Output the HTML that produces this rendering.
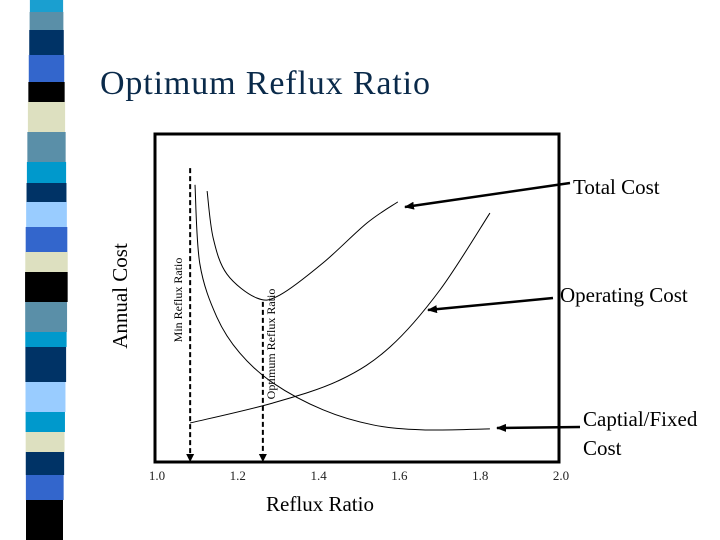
<!DOCTYPE html>
<html><head><meta charset="utf-8"><style>
html,body{margin:0;padding:0;background:#fff;}
svg{display:block;font-family:"Liberation Serif",serif;}
</style></head><body>
<svg width="720" height="540" viewBox="0 0 720 540">
<g id="strip"></g>
<text x="100" y="94" font-size="34" fill="#0a2a4a" textLength="330">Optimum Reflux Ratio</text>
<rect x="155" y="134" width="404" height="328" fill="none" stroke="#000" stroke-width="3"/>
<g id="ticks"></g>
<text x="320" y="511" font-size="21" text-anchor="middle">Reflux Ratio</text>
<text transform="translate(127,296) rotate(-90)" font-size="21" text-anchor="middle">Annual Cost</text>
<g id="curves"></g>
<g id="marks"></g>
<text transform="translate(182,300) rotate(-90)" font-size="12" text-anchor="middle">Min Reflux Ratio</text>
<text transform="translate(275,344) rotate(-90)" font-size="12" text-anchor="middle">Optimum Reflux Ratio</text>
<text x="573" y="194" font-size="21">Total Cost</text>
<text x="560" y="302" font-size="21">Operating Cost</text>
<text x="583" y="426" font-size="21">Captial/Fixed</text>
<text x="583" y="455" font-size="21">Cost</text>
<defs><marker id="ah" markerWidth="10" markerHeight="8" refX="9" refY="4" orient="auto" markerUnits="userSpaceOnUse"><path d="M0,0 L10,4 L0,8 Z" fill="#000"/></marker>
<marker id="ah2" markerWidth="8" markerHeight="8" refX="4" refY="8" orient="auto" markerUnits="userSpaceOnUse"><path d="M0,0 L8,0 L4,8 Z" fill="#000" transform="rotate(-90 4 4)"/></marker></defs>
<line x1="570" y1="183" x2="405" y2="207" stroke="#000" stroke-width="2.5" marker-end="url(#ah)"/>
<line x1="553" y1="298" x2="428" y2="310" stroke="#000" stroke-width="2.5" marker-end="url(#ah)"/>
<line x1="580" y1="427" x2="497" y2="428" stroke="#000" stroke-width="2.5" marker-end="url(#ah)"/>
</svg>
<script>
const xTicks=[1.0,1.2,1.4,1.6,1.8,2.0];
const xTickLabels=["1.0","1.2","1.4","1.6","1.8","2.0"];
const capitalX=[1.099,1.111,1.153,1.210,1.292,1.416,1.540,1.663,1.829];
const capitalY=[84.5,60.4,44.2,33.2,24.1,15.9,11.3,9.8,10.1];
const operatingX=[1.087,1.292,1.458,1.582,1.705,1.829];
const operatingY=[11.9,18.0,25.0,35.1,52.4,75.9];
const totalX=[1.129,1.144,1.178,1.252,1.309,1.416,1.525,1.601];
const totalY=[82.6,68.3,57.3,50.0,50.9,60.7,72.9,79.3];
const minReflux=1.087, optReflux=1.267;
const minTop=89.6, optTop=48.8;
const NS="http://www.w3.org/2000/svg";
const sx=v=>155+(v-1)*404;
const sy=v=>462-v*3.28;
function mk(t,a,p){const e=document.createElementNS(NS,t);for(const k in a)e.setAttribute(k,a[k]);p.appendChild(e);return e;}
// strip
const bands=[[0,12,"#1a9fd0"],[12,30,"#5a8fa8"],[30,55,"#003366"],[55,82,"#3366cc"],[82,102,"#000"],[102,132,"#dde0c0"],[132,162,"#5a8fa8"],[162,183,"#0099cc"],[183,202,"#003366"],[202,227,"#99ccff"],[227,252,"#3366cc"],[252,272,"#dde0c0"],[272,302,"#000"],[302,332,"#5a8fa8"],[332,347,"#0099cc"],[347,382,"#003366"],[382,412,"#99ccff"],[412,432,"#0099cc"],[432,452,"#dde0c0"],[452,475,"#003366"],[475,500,"#3366cc"],[500,540,"#000"]];
const strip=document.getElementById('strip');
bands.forEach(b=>{const m=(b[0]+b[1])/2;const l=m<270?30-m*0.018:25+(m-270)*0.004;const r=m<270?63+m*0.018:68-(m-270)*0.02;
const e=mk('rect',{x:l,y:b[0],width:r-l,height:b[1]-b[0],fill:b[2]},strip);

});
// ticks
const tg=document.getElementById('ticks');
xTicks.forEach((t,i)=>{const e=mk('text',{x:sx(t)+2,y:480,'font-size':13,'text-anchor':'middle',fill:'#222'},tg);e.textContent=xTickLabels[i];

});
function path(xs,ys){const p=xs.map((x,i)=>[sx(x),sy(ys[i])]);let d=`M${p[0][0]},${p[0][1]}`;
for(let i=0;i<p.length-1;i++){const p0=p[i-1]||p[i],p1=p[i],p2=p[i+1],p3=p[i+2]||p2;
d+=` C${p1[0]+(p2[0]-p0[0])/6},${p1[1]+(p2[1]-p0[1])/6} ${p2[0]-(p3[0]-p1[0])/6},${p2[1]-(p3[1]-p1[1])/6} ${p2[0]},${p2[1]}`;}return d;}
const cg=document.getElementById('curves');
[[capitalX,capitalY,'capital-cost-curve'],[operatingX,operatingY,'operating-cost-curve'],[totalX,totalY,'total-cost-curve']].forEach(c=>{
const e=mk('path',{d:path(c[0],c[1]),fill:'none',stroke:'#000','stroke-width':1},cg);

});
const mg=document.getElementById('marks');
[[minReflux,minTop,'min-reflux-line'],[optReflux,optTop,'optimum-reflux-line']].forEach(m=>{
const e=mk('line',{x1:sx(m[0]),y1:sy(m[1]),x2:sx(m[0]),y2:456,stroke:'#000','stroke-width':2,'stroke-dasharray':'5,3'},mg);


const h=mk('path',{d:`M${sx(m[0])-4},454 L${sx(m[0])+4},454 L${sx(m[0])},462 Z`,fill:'#000'},mg);

});
</script>
</body></html>
